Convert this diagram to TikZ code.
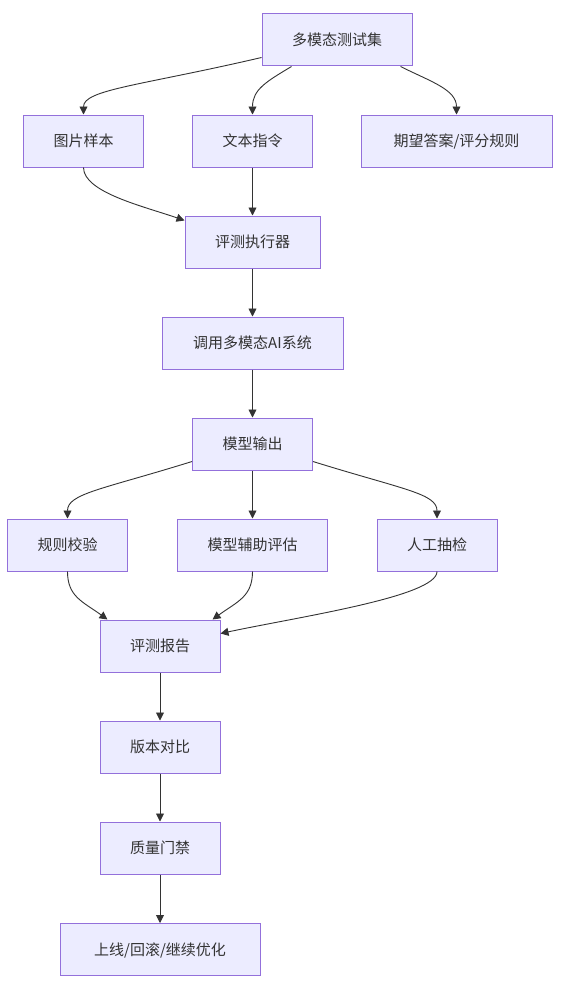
\documentclass[tikz,border=0pt]{standalone}
\usepackage{fontspec}
\newfontfamily\cjk{Noto Sans CJK SC}
\usetikzlibrary{arrows.meta}
\definecolor{boxfill}{HTML}{ECECFF}
\definecolor{boxline}{HTML}{9370DB}
\definecolor{ink}{HTML}{333333}
\tikzset{
  box/.style={draw=boxline,fill=boxfill,line width=1pt,minimum height=52pt,inner xsep=30pt,
    text height=12pt,text depth=1pt,font=\cjk\fontsize{15}{18}\selectfont,text=ink},
  flow/.style={draw=ink,line width=0.9pt,-{Triangle[length=8pt,width=8pt]}}
}
\begin{document}
\begin{tikzpicture}[x=1pt,y=-1pt]
        \fill[white] (0,0) rectangle (560,990);
        \useasboundingbox (0,0) rectangle (560,990);
        \node[box] (set) at (337,40) {多模态测试集};
        \node[box] (img) at (83.5,141) {图片样本};
        \node[box] (txt) at (252.5,141) {文本指令};
        \node[box,minimum width=191pt] (exp) at (456.5,141) {期望答案/评分规则};
        \node[box] (exec) at (252.5,242) {评测执行器};
        \node[box,minimum width=181pt] (call) at (252.5,343) {调用多模态AI系统};
        \node[box] (out) at (252.5,444) {模型输出};
        \node[box] (rule) at (67.5,545) {规则校验};
        \node[box] (assist) at (252.5,545) {模型辅助评估};
        \node[box] (manual) at (437,545) {人工抽检};
        \node[box] (report) at (160,646) {评测报告};
        \node[box] (version) at (160,747) {版本对比};
        \node[box] (gate) at (160,848) {质量门禁};
        \node[box,minimum width=200pt] (deploy) at (160,949.5) {上线/回滚/继续优化};
        \draw[flow] ([yshift=9pt]set.south west) .. controls +(-120,28) and +(0,-25) .. (img.north);
        \draw[flow] ([xshift=30pt]set.south west) .. controls +(-25,15) and +(0,-25) .. (txt.north);
        \draw[flow] ([xshift=-12pt]set.south east) .. controls +(30,15) and +(0,-25) .. (exp.north);
        \draw[flow] (img.south) .. controls +(0,25) and +(-40,-14) .. ([yshift=-5pt]exec.north west);
        \draw[flow] (txt) -- (exec);
        \draw[flow] (exec) -- (call);
        \draw[flow] (call) -- (out);
        \draw[flow] ([yshift=9pt]out.south west) .. controls +(-90,28) and +(0,-25) .. (rule.north);
        \draw[flow] (out) -- (assist);
        \draw[flow] ([yshift=9pt]out.south east) .. controls +(90,28) and +(0,-25) .. (manual.north);
        \draw[flow] (rule.south) .. controls +(0,25) and +(-25,-18) .. ([xshift=8pt]report.north west);
        \draw[flow] (assist.south) .. controls +(0,25) and +(25,-18) .. ([xshift=-8pt]report.north east);
        \draw[flow] (manual.south) .. controls +(0,25) and +(80,-17) .. ([yshift=-14pt]report.north east);
        \draw[flow] (report) -- (version);
        \draw[flow] (version) -- (gate);
        \draw[flow] (gate) -- (deploy);
      \end{tikzpicture}
\end{document}
